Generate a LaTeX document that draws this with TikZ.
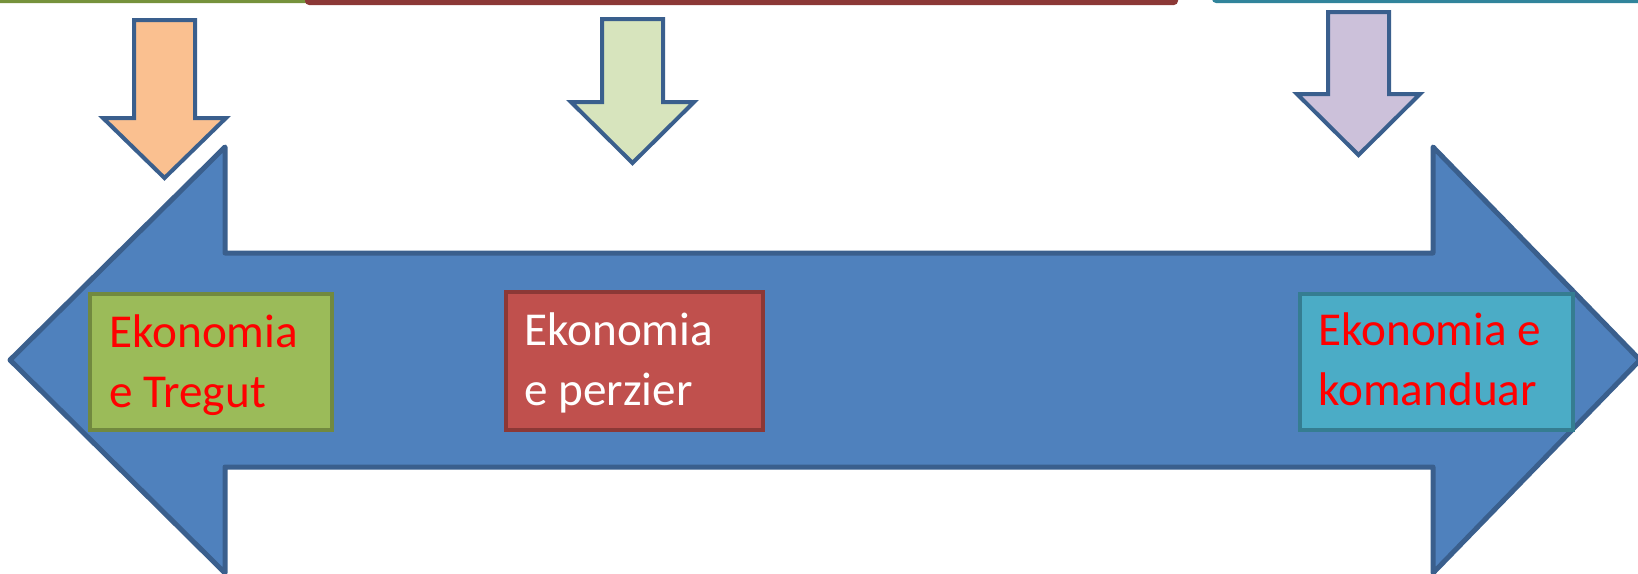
\documentclass[tikz,border=0pt]{standalone}
\usepackage{fontspec}
\setmainfont{Carlito}
\definecolor{bigfill}{HTML}{4F81BD}
\definecolor{bigline}{HTML}{3A5F8D}
\definecolor{orfill}{HTML}{FAC090}
\definecolor{lgfill}{HTML}{D7E4BD}
\definecolor{pufill}{HTML}{CCC1DA}
\definecolor{gfill}{HTML}{9BBB59}
\definecolor{gline}{HTML}{71893F}
\definecolor{rfill}{HTML}{C0504D}
\definecolor{rline}{HTML}{8C3836}
\definecolor{tfill}{HTML}{4BACC6}
\definecolor{tline}{HTML}{357D91}
\definecolor{gbar}{HTML}{76923C}
\definecolor{rbar}{HTML}{8C3836}
\definecolor{tbar}{HTML}{31849B}
\tikzset{
  bigarrow/.style={fill=bigfill, draw=bigline, line width=2.5pt, line join=round},
  downarrow/.style={draw=bigline, line width=2pt, line join=miter},
  ebox/.style={rectangle, line width=2pt, inner sep=0pt, anchor=north west},
  etext/.style={anchor=north west, inner sep=0pt, align=left, font=\fontsize{23.6}{30}\selectfont}
}
\begin{document}
\begin{tikzpicture}[x=0.5pt, y=-0.5pt]
\useasboundingbox (0,0) rectangle (1638,573);
% top bars (bottoms of boxes above)
\fill[gbar, rounded corners=2pt] (-20,-20) rectangle (422,3);
\fill[rbar, rounded corners=2pt] (305,-20) rectangle (1178,5);
\fill[tbar, rounded corners=2pt] (1212,-20) rectangle (1660,3);
% big double arrow
\draw[bigarrow] (10,360) -- (225,147) -- (225,253) -- (1433,253) -- (1433,147)
  -- (1640,360) -- (1433,573) -- (1433,467) -- (225,467) -- (225,573) -- cycle;
% down arrows
\draw[downarrow, fill=orfill] (134,20) -- (195,20) -- (195,118) -- (226,118) -- (164.5,178)
  -- (103,118) -- (134,118) -- cycle;
\draw[downarrow, fill=lgfill] (602,19) -- (663,19) -- (663,102) -- (694,102) -- (632.5,163)
  -- (571,102) -- (602,102) -- cycle;
\draw[downarrow, fill=pufill] (1328,12) -- (1389,12) -- (1389,94) -- (1420,94) -- (1358.5,155)
  -- (1297,94) -- (1328,94) -- cycle;
% boxes
\node[ebox, fill=gfill, draw=gline, minimum width=121pt, minimum height=68pt] (gbox) at (88,292) {};
\node[ebox, fill=rfill, draw=rline, minimum width=128.5pt, minimum height=69pt] (rbox) at (504,290) {};
\node[ebox, fill=tfill, draw=tline, minimum width=136.5pt, minimum height=68pt] (tbox) at (1298,292) {};
\node[etext, text=red] (gtext) at (109,314) {Ekonomia\\e Tregut};
\node[etext, text=white] (rtext) at (524,312) {Ekonomia\\e perzier};
\node[etext, text=red] (ttext) at (1318,312) {Ekonomia e\\komanduar};
\end{tikzpicture}
\end{document}
